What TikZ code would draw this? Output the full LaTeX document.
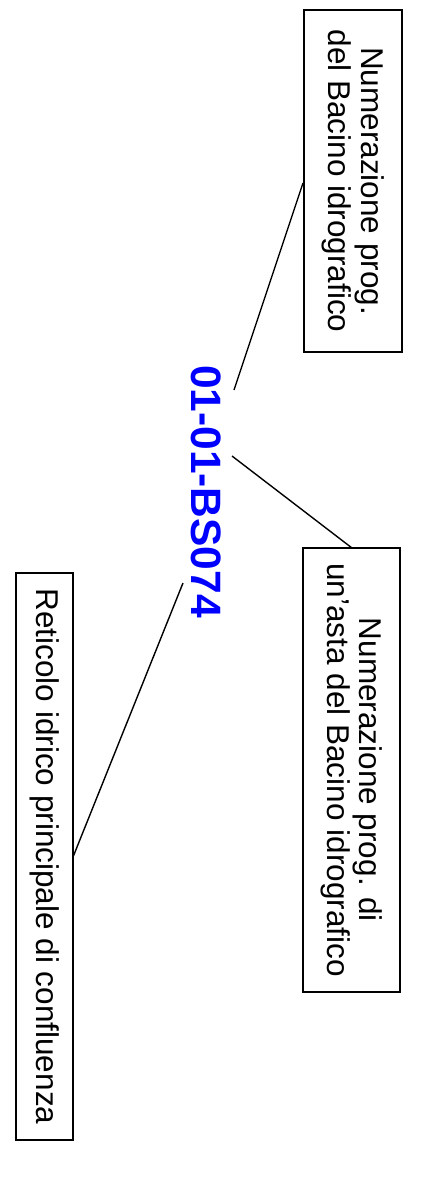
\documentclass[tikz,border=0pt]{standalone}
\usepackage{fontspec}
\setmainfont{Liberation Sans}
\begin{document}
\begin{tikzpicture}[x=1pt,y=-1pt,
  labelbox/.style={draw,line width=1.4pt,rotate=-90,align=center,inner sep=0pt,
    font=\fontsize{31.5}{32.5}\selectfont},
  conn/.style={line width=1.4pt}]
\useasboundingbox (0,0) rectangle (442,1179);
\node[labelbox,minimum width=342pt,minimum height=98pt] (b1) at (353,181)
  {Numerazione prog.\\del Bacino idrografico};
\node[labelbox,minimum width=444pt,minimum height=97pt] (b2) at (351.5,770)
  {Numerazione prog. di\\un\char39 asta del Bacino idrografico};
\node[labelbox,minimum width=567pt,minimum height=57pt] (b3) at (44.5,856.5)
  {Reticolo idrico principale di confluenza};
\node[rotate=-90,text=blue,font=\fontsize{42.5}{44}\selectfont\bfseries,inner sep=0pt] (code) at (206,491.5) {01-01-BS074};
\coordinate (s1) at (234,390);
\coordinate (e1) at (303,183);
\coordinate (s2) at (232,456);
\coordinate (e2) at (352,548);
\coordinate (s3) at (183,583);
\coordinate (e3) at (73,857);
\draw[conn] (s1) -- (e1);
\draw[conn] (s2) -- (e2);
\draw[conn] (s3) -- (e3);
\end{tikzpicture}
\end{document}
